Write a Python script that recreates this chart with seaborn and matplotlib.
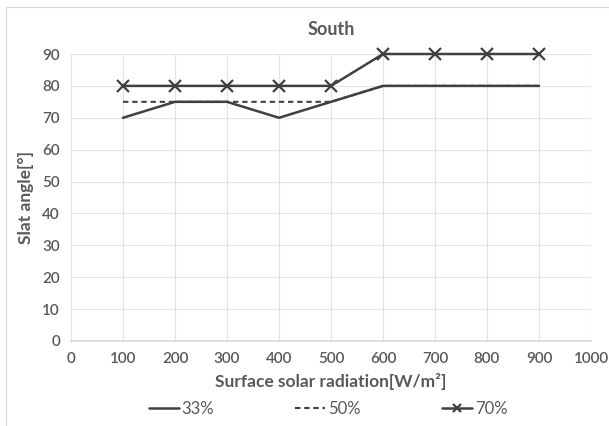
import matplotlib
matplotlib.use("Agg")
import matplotlib.pyplot as plt
import seaborn as sns
import pandas as pd
from matplotlib.patches import Rectangle

radiation = [100, 200, 300, 400, 500, 600, 700, 800, 900]
s33 = [70, 75, 75, 70, 75, 80, 80, 80, 80]
s50 = [75, 75, 75, 75, 75, 80, 80, 80, 80]
s70 = [80, 80, 80, 80, 80, 90, 90, 90, 90]
series_names = ["33%", "50%", "70%"]
x_ticks = [0, 100, 200, 300, 400, 500, 600, 700, 800, 900, 1000]
y_ticks = [0, 10, 20, 30, 40, 50, 60, 70, 80, 90]

sns.set_theme(style="white")
plt.rcParams['font.family'] = ['Lato', 'DejaVu Sans']

fig = plt.figure(figsize=(6.09, 4.26), dpi=100)
ax = fig.add_axes([71/609, 1-341/426, (591-71)/609, (341-54)/426])

# chart border (extends past right/bottom edges as in the reference crop)
fig.patches.append(Rectangle((6/609, -0.05), 0.99 + 10/609, 1.05 - 7/426, transform=fig.transFigure,
                             fill=False, edgecolor='#d9d9d9', linewidth=0.8))

col = '#404040'
df50 = pd.DataFrame({'x': radiation, 'y': s50})
df33 = pd.DataFrame({'x': radiation, 'y': s33})
df70 = pd.DataFrame({'x': radiation, 'y': s70})
sns.lineplot(data=df33, x='x', y='y', ax=ax, color=col, lw=1.8, label=series_names[0])
sns.lineplot(data=df50, x='x', y='y', ax=ax, color=col, lw=1.5, linestyle=(0, (2.6, 1.8)), label=series_names[1])
sns.lineplot(data=df70, x='x', y='y', ax=ax, color=col, lw=1.8, marker='x', markersize=8,
             markeredgewidth=1.6, markeredgecolor=col, label=series_names[2])
for ln in ax.lines:
    ln.set_clip_on(False)

ax.set_xlim(0, 1000)
ax.set_ylim(0, 90)
ax.set_xticks(x_ticks)
ax.set_yticks(y_ticks)
ax.grid(True, color='#e3e3e3', linewidth=0.8)
for s in ax.spines.values():
    s.set_visible(False)
ax.spines['bottom'].set_visible(True)
ax.spines['bottom'].set_color('#d9d9d9')
ax.tick_params(axis='both', length=0, labelsize=11, colors='#595959', pad=8)
for t in ax.get_xticklabels() + ax.get_yticklabels():
    t.set_fontweight('semibold')
ax.set_xlabel('Surface solar radiation[W/m²]', fontsize=12.5, fontweight='bold', color='#595959', labelpad=5)
ax.set_ylabel('Slat angle[°]', fontsize=12.5, fontweight='bold', color='#595959', labelpad=6)
ax.set_title('South', fontsize=13, fontweight='bold', color='#595959', pad=14)

handles, labels = ax.get_legend_handles_labels()
ax.get_legend().remove()
leg = fig.legend(handles, labels, loc='center', bbox_to_anchor=(328/609, 1-409/426), ncol=3, frameon=False,
                 fontsize=12, labelcolor='#595959', columnspacing=4.9, handlelength=1.8, handletextpad=0.15,
                 markerscale=0.8)

fig.savefig('out.png', dpi=100)
